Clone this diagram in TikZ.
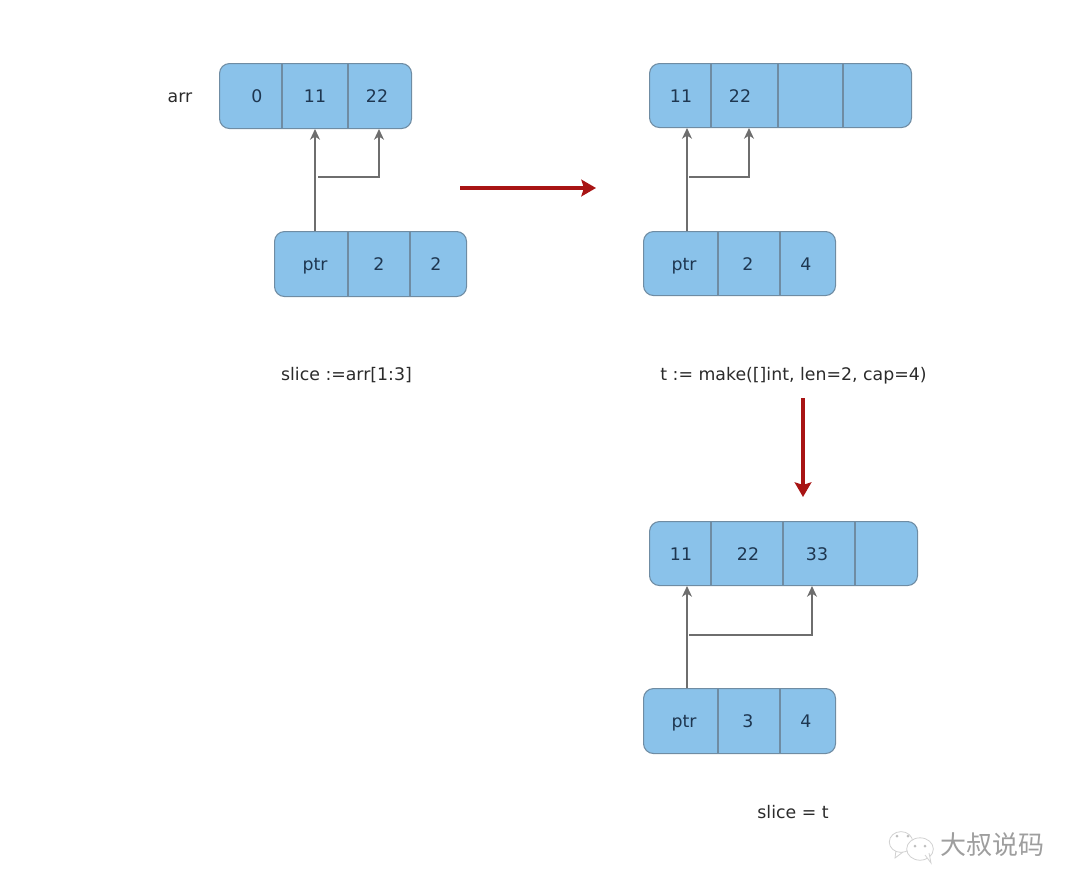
\documentclass[tikz,border=0pt]{standalone}
\usepackage{fontspec}
\setmainfont{DejaVu Sans}
\newfontfamily\cjkwm{Noto Sans CJK SC}
\usetikzlibrary{arrows.meta,calc}
\definecolor{cellfill}{HTML}{8AC2EA}
\definecolor{celledge}{HTML}{6F8CA3}
\definecolor{celltext}{HTML}{1E3650}
\definecolor{linkgray}{HTML}{6E6E6E}
\definecolor{bigred}{HTML}{A81414}
\definecolor{labelink}{HTML}{2B2B2B}
\tikzset{
  x=0.75pt,y=-0.75pt,
  cellbox/.style={draw=celledge,fill=cellfill,line width=0.8pt,rounded corners=7.5pt,inner sep=0pt,anchor=north west},
  divider/.style={draw=celledge,line width=0.8pt},
  celltxt/.style={text=celltext,font=\fontsize{13pt}{15pt}\selectfont,inner sep=0pt,text height=9.4pt,text depth=0pt},
  labeltxt/.style={text=labelink,font=\fontsize{13pt}{15pt}\selectfont,inner sep=0pt,text height=9.4pt,text depth=0pt},
  link/.style={draw=linkgray,line width=0.8pt},
  linktip/.style={link,-{Stealth[length=8pt,width=7.5pt,inset=2.4pt]}},
  bigarrow/.style={draw=bigred,line width=2.4pt,-{Stealth[length=11pt,width=12.5pt,inset=2pt]}},
  wmark/.style={draw=black!18,line width=0.6pt,fill=white},
}
\newcommand{\cellbox}[5]{% name, x1, y1, x2, y2
  \node[cellbox,minimum width={(#4-#2)*0.75pt},minimum height={(#5-#3)*0.75pt}] (#1) at (#2,#3) {};
}
\newcommand{\celldiv}[2]{% box name, x
  \draw[divider] (#2,0 |- #1.north) -- (#2,0 |- #1.south);
}
\begin{document}
\begin{tikzpicture}
\useasboundingbox (0,0) rectangle (1080,893);
% top-left array and slice
\cellbox{arrbox}{219}{63}{411}{128}
\celldiv{arrbox}{282}\celldiv{arrbox}{348}
\node[celltxt] (a0) at (257,96) {0};
\node[celltxt] (a1) at (315,96) {11};
\node[celltxt] (a2) at (377,96) {22};
\node[labeltxt] (arrlabel) at (180,96) {arr};
\cellbox{pa}{274}{231}{466}{296}
\celldiv{pa}{348}\celldiv{pa}{410}
\node[celltxt] (pa0) at (315,264) {ptr};
\node[celltxt] (pa1) at (379,264) {2};
\node[celltxt] (pa2) at (436,264) {2};
\draw[linktip] (pa.north -| a1) -- (arrbox.south -| a1);
\coordinate (ja) at (318,177);
\coordinate (ta) at (379,177);
\draw[linktip] (ja) -| (arrbox.south -| ta);
\node[labeltxt] (la) at (346.5,374) {slice :=arr[1:3]};
% top-right
\cellbox{tbox}{649}{63}{911}{127}
\celldiv{tbox}{711}\celldiv{tbox}{778}\celldiv{tbox}{843}
\node[celltxt] (t0) at (681,96) {11};
\node[celltxt] (t1) at (740,96) {22};
\cellbox{pb}{643}{231}{835}{295}
\celldiv{pb}{718}\celldiv{pb}{780}
\node[celltxt] (pb0) at (684,264) {ptr};
\node[celltxt] (pb1) at (748,264) {2};
\node[celltxt] (pb2) at (806,264) {4};
\coordinate (tx) at (687,177);
\draw[linktip] (pb.north -| tx) -- (tbox.south -| tx);
\coordinate (jb) at (689,177);
\coordinate (tb) at (749,177);
\draw[linktip] (jb) -| (tbox.south -| tb);
\node[labeltxt] (lb) at (793.5,374) {t := make([]int, len=2, cap=4)};
% bottom-right
\cellbox{ubox}{649}{521}{917}{585}
\celldiv{ubox}{711}\celldiv{ubox}{783}\celldiv{ubox}{855}
\node[celltxt] (u0) at (681,554) {11};
\node[celltxt] (u1) at (748,554) {22};
\node[celltxt] (u2) at (817,554) {33};
\cellbox{pc}{643}{688}{835}{753}
\celldiv{pc}{718}\celldiv{pc}{780}
\node[celltxt] (pc0) at (684,721) {ptr};
\node[celltxt] (pc1) at (748,721) {3};
\node[celltxt] (pc2) at (806,721) {4};
\coordinate (ux) at (687,635);
\draw[linktip] (pc.north -| ux) -- (ubox.south -| ux);
\coordinate (jc) at (689,635);
\coordinate (uc) at (812,635);
\draw[linktip] (jc) -| (ubox.south -| uc);
\node[labeltxt] (lc) at (793,812) {slice = t};
% red arrows
\coordinate (r1s) at (460,188);
\coordinate (r1e) at (596,188);
\draw[bigarrow] (r1s) -- (r1e);
\coordinate (r2s) at (803,398);
\coordinate (r2e) at (803,497);
\draw[bigarrow] (r2s) -- (r2e);
% watermark
\draw[wmark] (896,850) -- (895,858) -- (903,852);
\draw[wmark] (901,842) ellipse [x radius=8.8pt,y radius=7.8pt];
\draw[wmark] (920,849) ellipse [x radius=10pt,y radius=8.4pt];
\draw[wmark] (925,855) -- (931,863) -- (929,853);
\fill[black!25] (897,836) circle (1.5) (908,836) circle (1.5) (915,846) circle (1.5) (925,846) circle (1.5);
\node[text=black!38,font=\cjkwm\fontsize{19.5pt}{22pt}\selectfont,inner sep=0pt] (wm) at (992,845) {大叔说码};
\end{tikzpicture}
\end{document}
